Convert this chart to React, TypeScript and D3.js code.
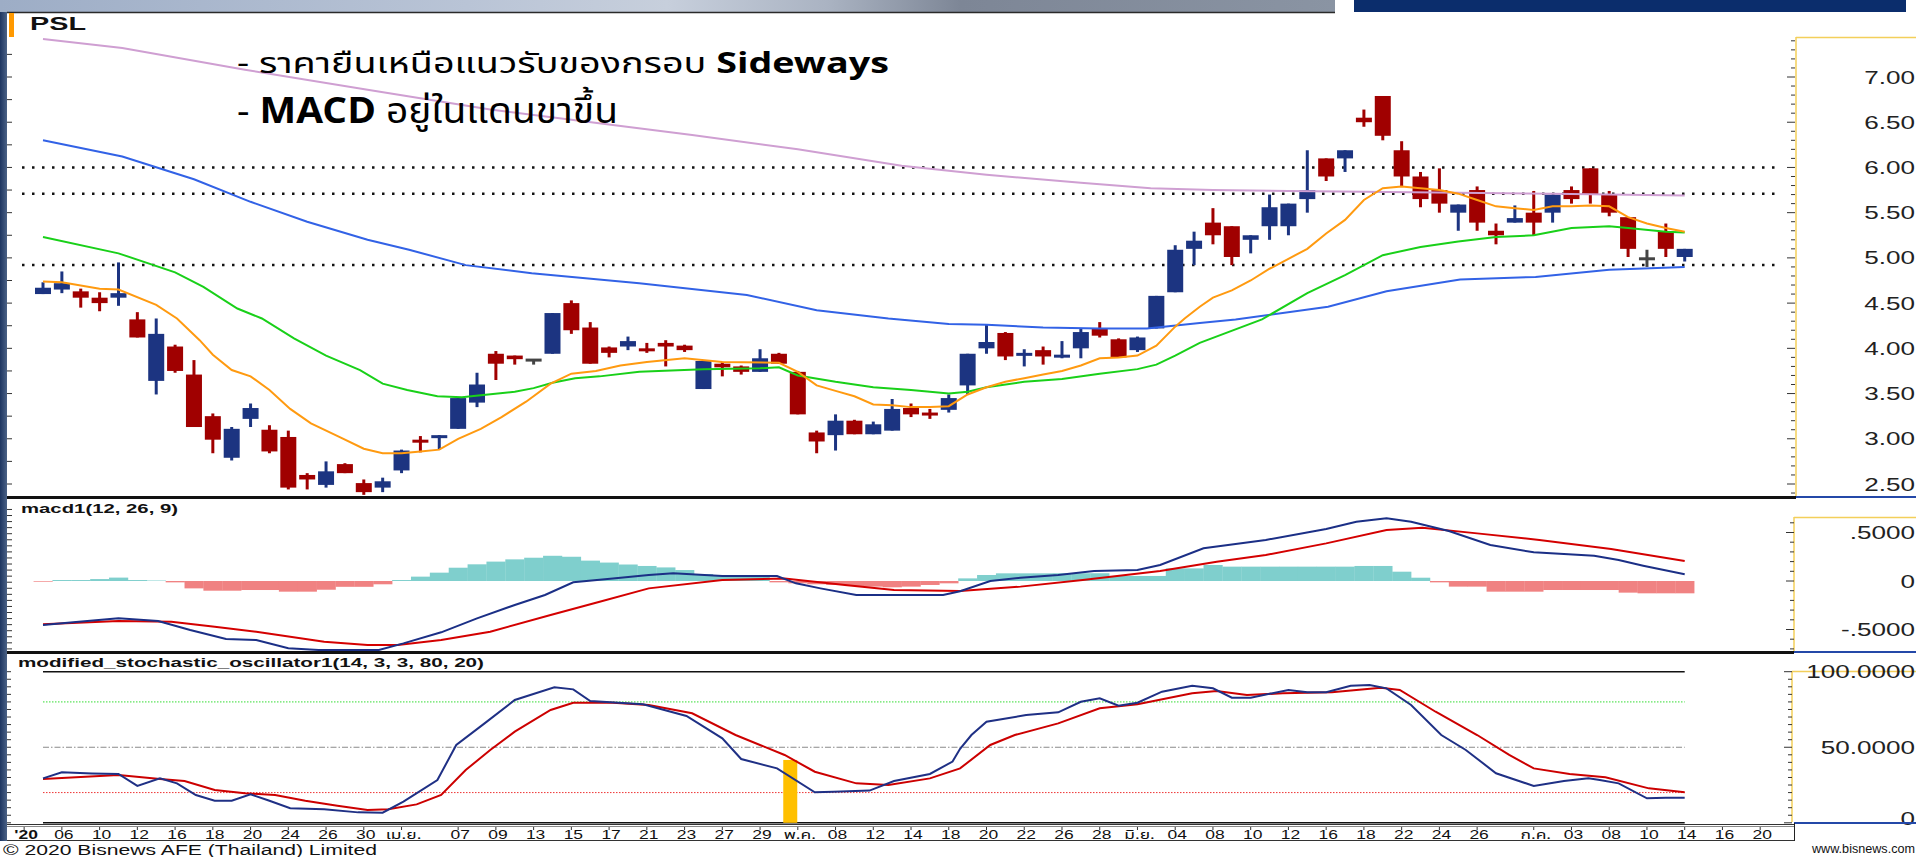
import React from "react";
import * as d3 from "d3";

// ---------- DATA ----------
const openP = [4.60,4.65,4.63,4.56,4.56,4.32,3.64,4.02,3.71,3.25,2.79,3.22,3.10,3.02,2.60,2.49,2.72,2.51,2.46,2.65,2.99,3.02,3.11,3.40,3.94,3.92,3.87,3.94,4.50,4.23,4.01,4.02,4.00,4.06,4.03,3.55,3.83,3.80,3.74,3.94,3.74,3.07,3.04,3.20,3.05,3.09,3.34,3.29,3.32,3.59,4.00,4.17,3.92,3.98,3.91,4.00,4.22,4.10,3.98,4.22,4.62,5.10,5.39,5.35,5.20,5.35,5.35,5.65,6.10,6.10,6.55,6.79,6.19,5.90,5.75,5.50,5.75,5.30,5.39,5.50,5.50,5.75,5.99,5.70,5.45,4.99,5.29,5.01];
const highP = [4.73,4.85,4.66,4.62,4.95,4.40,4.33,4.04,3.87,3.28,3.13,3.39,3.15,3.09,2.62,2.75,2.73,2.55,2.57,2.88,3.03,3.04,3.45,3.73,3.97,3.92,3.88,4.39,4.53,4.29,4.02,4.13,4.06,4.09,4.04,3.87,3.85,3.81,3.99,3.95,3.75,3.09,3.27,3.21,3.19,3.44,3.39,3.33,3.49,3.94,4.26,4.18,3.99,4.02,4.08,4.22,4.29,4.11,4.13,4.58,5.14,5.29,5.55,5.35,5.25,5.70,5.60,6.19,6.10,6.19,6.64,6.79,6.29,5.95,5.99,5.59,5.79,5.38,5.58,5.74,5.70,5.79,5.99,5.74,5.45,5.09,5.38,5.10];
const lowP = [4.60,4.61,4.45,4.41,4.47,4.12,3.49,3.73,3.13,2.84,2.76,3.13,2.84,2.44,2.44,2.46,2.62,2.38,2.41,2.62,2.85,2.88,3.11,3.35,3.65,3.82,3.82,3.94,4.16,3.83,3.90,3.98,3.95,3.80,3.96,3.55,3.69,3.71,3.74,3.83,3.27,2.84,2.87,3.05,3.05,3.09,3.24,3.22,3.29,3.49,3.94,3.87,3.80,3.82,3.89,3.89,4.12,3.90,3.96,4.22,4.62,4.92,5.15,4.92,5.05,5.20,5.25,5.50,5.85,5.95,6.45,6.30,5.79,5.56,5.50,5.30,5.30,5.15,5.39,5.25,5.39,5.60,5.60,5.46,5.01,4.90,5.01,4.96];
const closeP = [4.67,4.72,4.56,4.50,4.61,4.12,4.16,3.75,3.13,2.99,3.11,3.34,2.86,2.46,2.55,2.64,2.62,2.41,2.53,2.87,2.96,3.04,3.45,3.60,3.83,3.88,3.87,4.39,4.20,3.83,3.95,4.08,3.97,4.02,3.98,3.86,3.79,3.74,3.89,3.83,3.27,2.97,3.20,3.05,3.16,3.33,3.27,3.27,3.45,3.94,4.07,3.91,3.95,3.91,3.93,4.18,4.14,3.90,4.12,4.58,5.09,5.19,5.25,5.01,5.25,5.56,5.60,5.75,5.90,6.19,6.50,6.35,5.90,5.65,5.60,5.59,5.39,5.25,5.44,5.39,5.70,5.65,5.70,5.50,5.10,4.99,5.10,5.10];

const maOrangeIdx = [0,1,3,4,6,7.1,8.3,9,10,11,12,13.1,14.2,15.7,17,18,19,20,21,22,23.2,24.3,25.6,26.9,28,29.3,30.6,32,34,36,39,40,41,42,43,44,45,46,47,48,49,50,51,52,53,54,55,56,57,58,59,60,60.5,61.3,62,63,64,65,66,67,68,69,70,71,72,73,74,75,76,77,78,79,80,81,82,83,84,85,86,87];
const maOrangeVal = [4.74,4.73,4.66,4.65,4.48,4.33,4.09,3.93,3.76,3.69,3.54,3.33,3.17,3.02,2.89,2.84,2.84,2.86,2.88,3.00,3.11,3.24,3.41,3.61,3.72,3.75,3.81,3.85,3.89,3.85,3.84,3.74,3.59,3.53,3.47,3.38,3.37,3.35,3.35,3.36,3.49,3.57,3.63,3.67,3.71,3.75,3.81,3.89,3.90,3.92,4.03,4.24,4.33,4.46,4.56,4.64,4.75,4.88,4.99,5.10,5.27,5.42,5.64,5.77,5.79,5.77,5.75,5.71,5.64,5.57,5.55,5.53,5.57,5.57,5.58,5.57,5.45,5.38,5.33,5.29];
const maGreenIdx = [0,4,7,8.5,10.3,11.6,13.3,15,16.8,18,19.3,20.9,22.2,23.2,25,26,27,28.2,29.5,31.6,35,38,39,40,42,44,46,48,49,50,52,54,56,58,59,60,61.3,64.6,67,69,71,73,75,77,79,81,83,84,86,87];
const maGreenVal = [5.23,5.05,4.84,4.68,4.44,4.33,4.11,3.92,3.76,3.61,3.54,3.47,3.46,3.48,3.52,3.56,3.62,3.67,3.69,3.74,3.77,3.78,3.79,3.70,3.63,3.57,3.54,3.50,3.52,3.57,3.63,3.66,3.72,3.77,3.82,3.92,4.06,4.32,4.61,4.81,5.03,5.12,5.18,5.23,5.25,5.33,5.35,5.33,5.29,5.28];
const maBlueIdx = [0,4.2,8,11,14,17.2,19.4,22.4,25.9,31.6,37.3,41,44.8,48,50,53,56,58.5,61.3,63.2,68.1,71.2,75.1,79.1,83,87];
const maBlueVal = [6.30,6.12,5.87,5.62,5.40,5.20,5.09,4.92,4.83,4.72,4.59,4.42,4.33,4.27,4.26,4.23,4.22,4.22,4.28,4.32,4.46,4.63,4.76,4.79,4.87,4.90];
const maVioletIdx = [0,4.2,10.7,17.2,23.7,30.2,34.4,40,45.5,50,55,58.7,62,66,70,75,80,87];
const maVioletVal = [7.42,7.32,7.08,6.86,6.64,6.47,6.36,6.20,6.02,5.92,5.83,5.77,5.75,5.74,5.73,5.72,5.71,5.69];

const levels = [6.0, 5.71, 4.92];
const priceTicks = [2.5,3,3.5,4,4.5,5,5.5,6,6.5,7];

const macdIdx = [0,1.6,4,6.1,7.8,9.7,11.3,13,14.6,17.8,19.1,21.1,23,25,26.6,28.1,30.2,32.1,33.4,36,38.9,39.9,41.2,43.1,47.7,48.6,50.2,51.8,53.8,55.7,58,59.2,61.5,62.8,64.8,68,69.6,71.2,72.5,74.5,76.7,79,82.2,83.5,84.8,87];
const macdVal = [-0.454,-0.426,-0.385,-0.412,-0.505,-0.598,-0.608,-0.694,-0.711,-0.711,-0.643,-0.529,-0.385,-0.247,-0.144,-0.013,0.027,0.062,0.079,0.052,0.052,-0.024,-0.076,-0.144,-0.144,-0.105,0.0,0.034,0.062,0.103,0.113,0.165,0.337,0.371,0.423,0.536,0.611,0.646,0.611,0.515,0.371,0.296,0.261,0.216,0.158,0.069];
const sigIdx = [0,4,6.8,9.1,11.3,14.9,17.2,18.8,21.1,23.7,26.9,29.5,32.1,36,39.3,42.5,45.1,48.6,51.8,55.1,59.2,62.2,64.8,68,71.2,73.1,76,79.3,83.1,87];
const sigVal = [-0.447,-0.412,-0.419,-0.471,-0.523,-0.626,-0.660,-0.660,-0.608,-0.523,-0.351,-0.213,-0.076,0.010,0.027,-0.041,-0.093,-0.103,-0.058,0.010,0.103,0.199,0.268,0.388,0.526,0.550,0.491,0.423,0.330,0.206];
const histVal = [-0.007,0.01,0.01,0.02,0.035,0.01,0.005,-0.014,-0.076,-0.10,-0.10,-0.093,-0.093,-0.11,-0.11,-0.09,-0.06,-0.06,-0.034,0.01,0.045,0.086,0.137,0.172,0.20,0.223,0.24,0.26,0.25,0.21,0.19,0.17,0.155,0.14,0.113,0.072,0.062,0.052,0.045,-0.014,-0.024,-0.034,-0.041,-0.052,-0.058,-0.065,-0.058,-0.041,-0.024,0.027,0.062,0.079,0.079,0.079,0.08,0.08,0.08,0.052,0.052,0.052,0.13,0.13,0.165,0.148,0.148,0.148,0.148,0.148,0.148,0.148,0.155,0.155,0.096,0.034,-0.014,-0.058,-0.058,-0.11,-0.11,-0.11,-0.093,-0.093,-0.093,-0.093,-0.12,-0.127,-0.127,-0.127];
const macdTicks = [0.5, 0, -0.5];
const macdLabels = [".5000", "0", "-.5000"];

const kIdx = [0,1,2.6,4,5,6.2,7.1,8.1,9.1,10,11,12,13.1,14.9,16.7,18,19.1,20.9,21.9,23.4,25,27.1,28.1,29,31.8,34.1,36,37,38.9,40.9,41.9,43.8,45.1,47,48.2,48.6,49.2,50,52.1,53.8,55,56,57,58,59.3,60.9,62,63,64,66,67,68,69.3,70.3,71.2,72.5,74.1,75.4,77,79,80.6,81.9,82.5,83.5,85,86,87];
const kVal = [29.4,33.4,32.7,32.3,24.4,29.4,26.1,18.4,14.6,14.6,18.8,14.6,9.6,8.9,6.9,6.7,14.0,28.3,51.5,65.8,81.3,89.7,88.3,80.6,78.4,70.7,55.9,42.2,36.0,20.2,20.6,21.3,27.7,32.3,40.5,49.0,58.1,66.9,71.3,73.1,80.1,82.4,77.5,79.5,86.8,90.7,89.0,82.8,82.8,87.9,86.4,86.4,90.7,91.2,89.0,78.0,58.1,48.2,32.8,24.4,27.7,29.4,28.3,26.1,16.2,16.6,16.6];
const dIdx = [0,4,6.2,7.5,9.1,10.7,12.3,13.9,15.6,17.2,18.3,19.8,21.1,22.4,23.7,25,26.9,28.1,30.2,32.1,34.4,36.7,39.3,40.9,43.1,44.8,47,48.6,50.2,51.5,53.8,56,58,60.9,62.2,63.8,65.7,68.3,70.9,71.9,73.8,76,77.7,79,80.9,82.8,85.1,87];
const dVal = [29.0,31.6,29.0,27.7,21.7,19.5,18.4,14.6,11.3,8.5,8.9,12.2,18.4,34.9,48.2,60.3,74.7,79.5,79.5,78.0,72.5,58.1,44.9,33.8,26.1,25.0,29.4,36.0,51.5,58.1,65.8,75.8,78.4,85.7,87.2,84.6,85.7,86.4,89.4,87.9,73.5,58.1,44.9,36.0,32.3,30.1,22.8,20.2];
const stochLevels = [80, 50, 20];
const stochTicks = [100, 50, 0];
const stochLabels = ["100.0000", "50.0000", "0"];
const markerIdx = [39.6];
const markerVal = [41.6];

const tickIdx = [-1,1,3,5,7,9,11,13,15,17,19,22,24,26,28,30,32,34,36,38,40,42,44,46,48,50,52,54,56,58,60,62,64,66,68,70,72,74,76,79,81,83,85,87,89,91];
const tickLab = ["'20","06","10","12","16","18","20","24","26","30","เม.ย.","07","09","13","15","17","21","23","27","29","พ.ค.","08","12","14","18","20","22","26","28","มิ.ย.","04","08","10","12","16","18","22","24","26","ก.ค.","03","08","10","14","16","20"];

// ---------- CHART ----------
const FONT = "'Liberation Sans', Arial, Helvetica, sans-serif";
const THAI = "'Noto Sans Thai', 'Noto Sans Thai UI', 'Noto Sans', 'DejaVu Sans', sans-serif";
const UP = "#1c3481";
const DOWN = "#a00000";
const FLAT = "#444444";
const AXIS_SX = 1.45;

export default function App() {
  const x = d3.scaleLinear().domain([0, 87]).range([43, 1684.7]);
  const step = x(1) - x(0);
  const yP = d3.scaleLinear().domain([2.5, 7]).range([484, 77]);
  const yM = d3.scaleLinear().domain([-0.5, 0.5]).range([629.5, 532.5]);
  const yS = d3.scaleLinear().domain([0, 100]).range([822.8, 671.7]);

  const path = (idx: number[], val: number[], y: (v: number) => number) =>
    d3.line<number>().x((_, i) => x(idx[i])).y((v) => y(v))(val) || "";

  const bodyW = 16;
  const candles = openP.map((o, i) => {
    const c = closeP[i];
    const col = c > o ? UP : c < o ? DOWN : FLAT;
    const top = yP(Math.max(o, c));
    const h = Math.max(3, Math.abs(yP(o) - yP(c)));
    return (
      <g key={"c" + i}>
        <line x1={x(i)} x2={x(i)} y1={yP(highP[i])} y2={yP(lowP[i])} stroke={col} strokeWidth={3} />
        <rect x={x(i) - bodyW / 2} y={c === o ? yP(o) - 1.5 : top} width={bodyW} height={h} fill={col} />
      </g>
    );
  });

  const priceMinor = d3.range(2.4, 7.45, 0.1);
  const priceLeft = d3.range(2.5, 7.3, 0.25);
  const macdMinor = d3.range(-0.7, 0.75, 0.1);
  const macdLeft = d3.range(-0.7, 0.8, 0.0625);
  const stochMinor = d3.range(0, 101, 5);

  const axisLabel = (key: string, yy: number, label: string) => (
    <text key={key} transform={`translate(1915,${yy + 6.5}) scale(${AXIS_SX},1)`} textAnchor="end" fontFamily={FONT} fontSize={18} fill="#222">
      {label}
    </text>
  );

  return (
    <svg width={1916} height={857} style={{ position: "absolute", left: 0, top: 0, display: "block" }}>
      <defs>
        <linearGradient id="topg" x1="0" x2="1" y1="0" y2="0">
          <stop offset="0" stopColor="#9dadc6" />
          <stop offset="0.35" stopColor="#b9c4d6" />
          <stop offset="0.5" stopColor="#c7cfdc" />
          <stop offset="0.62" stopColor="#aab3c2" />
          <stop offset="0.72" stopColor="#7d8696" />
          <stop offset="1" stopColor="#8a94a3" />
        </linearGradient>
        <linearGradient id="leftg" x1="0" x2="1" y1="0" y2="0">
          <stop offset="0" stopColor="#1d3560" />
          <stop offset="1" stopColor="#4b6286" />
        </linearGradient>
        <clipPath id="clipMain"><rect x={8} y={13} width={1786} height={483} /></clipPath>
        <clipPath id="clipMacd"><rect x={8} y={499} width={1786} height={152} /></clipPath>
      </defs>
      <rect x={0} y={0} width={1916} height={857} fill="#ffffff" />

      {/* top strips */}
      <rect x={0} y={0} width={1335} height={12} fill="url(#topg)" />
      <rect x={1354} y={0} width={552} height={12} fill="#0b2d6c" />
      <line x1={7} x2={1335} y1={12.5} y2={12.5} stroke="#2a2a2a" strokeWidth={1.5} />
      <rect x={0} y={12} width={7} height={829} fill="url(#leftg)" />

      {/* ===== MAIN PANEL ===== */}
      <g>
        {priceLeft.map((p, i) => (
          <line key={"pl" + i} x1={7} x2={12} y1={yP(p)} y2={yP(p)} stroke="#333" strokeWidth={1} />
        ))}
        {levels.map((lv, i) => (
          <line key={"lv" + i} x1={22} x2={1776} y1={yP(lv)} y2={yP(lv)} stroke="#111" strokeWidth={2.5} strokeDasharray="2.5 7.5" />
        ))}
        <g clipPath="url(#clipMain)">
          {candles}
          <path d={path(maVioletIdx, maVioletVal, yP)} fill="none" stroke="#cf9fd2" strokeWidth={2} />
          <path d={path(maBlueIdx, maBlueVal, yP)} fill="none" stroke="#3262e6" strokeWidth={2} />
          <path d={path(maGreenIdx, maGreenVal, yP)} fill="none" stroke="#19d019" strokeWidth={2} />
          <path d={path(maOrangeIdx, maOrangeVal, yP)} fill="none" stroke="#ff9a10" strokeWidth={2} />
        </g>
        <rect x={9} y={13} width={5} height={24} fill="#ff9900" />
        <text x={30} y={30} fontFamily={FONT} fontWeight="bold" fontSize={19} fill="#111" textLength={56} lengthAdjust="spacingAndGlyphs">PSL</text>
        <text x={237} y={73} fontFamily={THAI} fontSize={29} fill="#000" textLength={652} lengthAdjust="spacingAndGlyphs">
          - ราคายืนเหนือแนวรับของกรอบ <tspan fontWeight="bold">Sideways</tspan>
        </text>
        <text x={237} y={123} fontFamily={THAI} fontSize={36} fill="#000" textLength={381} lengthAdjust="spacingAndGlyphs">
          - <tspan fontWeight="bold">MACD</tspan> อยู่ในแดนขาขึ้น
        </text>
        <rect x={1796} y={37} width={120} height={460} fill="#ffffff" />
        <line x1={1796} x2={1916} y1={37.5} y2={37.5} stroke="#f3cf5a" strokeWidth={1.5} />
        <line x1={1796} x2={1796} y1={37} y2={497} stroke="#f3cf5a" strokeWidth={1.5} />
        {priceMinor.map((p, i) => {
          const major = Math.abs(p * 2 - Math.round(p * 2)) < 1e-6;
          const yy = yP(p);
          if (yy < 38 || yy > 495) return null;
          return <line key={"pt" + i} x1={major ? 1787 : 1791} x2={1795} y1={yy} y2={yy} stroke="#333" strokeWidth={1} />;
        })}
        {priceTicks.map((p, i) => axisLabel("pp" + i, yP(p), p.toFixed(2)))}
      </g>
      <rect x={7} y={496} width={1789} height={3} fill="#111" />
      <rect x={1796} y={496} width={120} height={2} fill="#2448a8" />

      {/* ===== MACD PANEL ===== */}
      <g>
        {macdLeft.map((v, i) => {
          const yy = yM(v);
          if (yy < 502 || yy > 650) return null;
          return <line key={"ml" + i} x1={7} x2={12} y1={yy} y2={yy} stroke="#333" strokeWidth={1} />;
        })}
        <g clipPath="url(#clipMacd)">
          {histVal.map((v, i) => (
            <rect key={"h" + i} x={x(i) - step / 2} width={step + 0.3} y={v >= 0 ? yM(v) : yM(0)} height={Math.abs(yM(v) - yM(0))} fill={v >= 0 ? "#7fcfcd" : "#f08282"} />
          ))}
          <path d={path(sigIdx, sigVal, yM)} fill="none" stroke="#d40000" strokeWidth={2} />
          <path d={path(macdIdx, macdVal, yM)} fill="none" stroke="#1b2f86" strokeWidth={2} />
        </g>
        <text x={21} y={513} fontFamily={FONT} fontWeight="bold" fontSize={13} fill="#111" textLength={157} lengthAdjust="spacingAndGlyphs">macd1(12, 26, 9)</text>
        <rect x={1794} y={517} width={122} height={134} fill="#ffffff" />
        <line x1={1794} x2={1916} y1={517.5} y2={517.5} stroke="#f3cf5a" strokeWidth={1.5} />
        <line x1={1794} x2={1794} y1={517} y2={651} stroke="#f3cf5a" strokeWidth={1.5} />
        {macdMinor.map((v, i) => {
          const yy = yM(v);
          if (yy < 519 || yy > 649) return null;
          const major = Math.abs(v * 2 - Math.round(v * 2)) < 1e-6;
          return <line key={"mt" + i} x1={major ? 1786 : 1790} x2={1794} y1={yy} y2={yy} stroke="#333" strokeWidth={1} />;
        })}
        {macdTicks.map((v, i) => axisLabel("mm" + i, yM(v), macdLabels[i]))}
      </g>
      <rect x={7} y={651} width={1787} height={3} fill="#111" />
      <rect x={1794} y={651} width={122} height={2} fill="#2448a8" />

      {/* ===== STOCH PANEL ===== */}
      <g>
        {stochMinor.map((v, i) => (
          <line key={"sl" + i} x1={7} x2={11} y1={yS(v)} y2={yS(v)} stroke="#333" strokeWidth={1} />
        ))}
        <text x={18} y={667} fontFamily={FONT} fontWeight="bold" fontSize={13} fill="#111" textLength={466} lengthAdjust="spacingAndGlyphs">modified_stochastic_oscillator1(14, 3, 3, 80, 20)</text>
        <line x1={x(0)} x2={x(87)} y1={yS(100)} y2={yS(100)} stroke="#111" strokeWidth={1.5} />
        <line x1={x(0)} x2={x(87)} y1={yS(0)} y2={yS(0)} stroke="#111" strokeWidth={1.5} />
        <line x1={x(0)} x2={x(87)} y1={yS(stochLevels[0])} y2={yS(stochLevels[0])} stroke="#33dd33" strokeWidth={1} strokeDasharray="1.5 1.5" />
        <line x1={x(0)} x2={x(87)} y1={yS(stochLevels[1])} y2={yS(stochLevels[1])} stroke="#8a8a8a" strokeWidth={1} strokeDasharray="6 2 1.5 2" />
        <line x1={x(0)} x2={x(87)} y1={yS(stochLevels[2])} y2={yS(stochLevels[2])} stroke="#ee3333" strokeWidth={1} strokeDasharray="1.5 1.5" />
        {markerIdx.map((m, i) => (
          <rect key={"mk" + i} x={x(m) - 7} width={14} y={yS(markerVal[i])} height={yS(0) - yS(markerVal[i])} fill="#ffc000" />
        ))}
        <path d={path(dIdx, dVal, yS)} fill="none" stroke="#cc0000" strokeWidth={2} />
        <path d={path(kIdx, kVal, yS)} fill="none" stroke="#1f3085" strokeWidth={2} />
        <rect x={1792} y={671} width={124} height={151} fill="#ffffff" />
        <line x1={1792} x2={1916} y1={671.5} y2={671.5} stroke="#f3cf5a" strokeWidth={1.5} />
        <line x1={1792} x2={1792} y1={671} y2={822} stroke="#f3cf5a" strokeWidth={1.5} />
        {stochMinor.map((v, i) => {
          const major = v % 50 === 0;
          return <line key={"st" + i} x1={major ? 1784 : 1788} x2={1792} y1={yS(v)} y2={yS(v)} stroke="#333" strokeWidth={1} />;
        })}
        {stochTicks.map((v, i) => axisLabel("ss" + i, Math.min(yS(v), 818), stochLabels[i]))}
      </g>

      {/* ===== DATE AXIS ===== */}
      <g>
        <line x1={7} x2={1794} y1={824.5} y2={824.5} stroke="#333" strokeWidth={1} />
        <line x1={7} x2={1794} y1={826.5} y2={826.5} stroke="#888" strokeWidth={1} />
        <rect x={1794} y={822} width={122} height={2} fill="#2448a8" />
        <line x1={1794.5} x2={1794.5} y1={823} y2={841} stroke="#222" strokeWidth={1} />
        <line x1={7} x2={1794} y1={840.5} y2={840.5} stroke="#333" strokeWidth={1} />
        {tickIdx.map((t, i) => (
          <g key={"tk" + i}>
            <line x1={x(t)} x2={x(t)} y1={827} y2={830} stroke="#333" strokeWidth={1} />
            <text
              transform={`translate(${x(t) + 2},${838.5}) scale(1.4,1)`}
              textAnchor="middle"
              fontFamily={/[\u0E00-\u0E7F]/.test(tickLab[i]) ? THAI : FONT}
              fontWeight={i === 0 ? "bold" : "normal"}
              fontSize={12.5}
              fill="#111"
            >
              {tickLab[i]}
            </text>
          </g>
        ))}
      </g>

      {/* footer */}
      <text x={3} y={855} fontFamily={FONT} fontSize={14} fill="#111" textLength={374} lengthAdjust="spacingAndGlyphs">© 2020 Bisnews AFE (Thailand) Limited</text>
      <text x={1812} y={853} fontFamily={FONT} fontSize={12} fill="#111" textLength={103} lengthAdjust="spacingAndGlyphs">www.bisnews.com</text>
    </svg>
  );
}
